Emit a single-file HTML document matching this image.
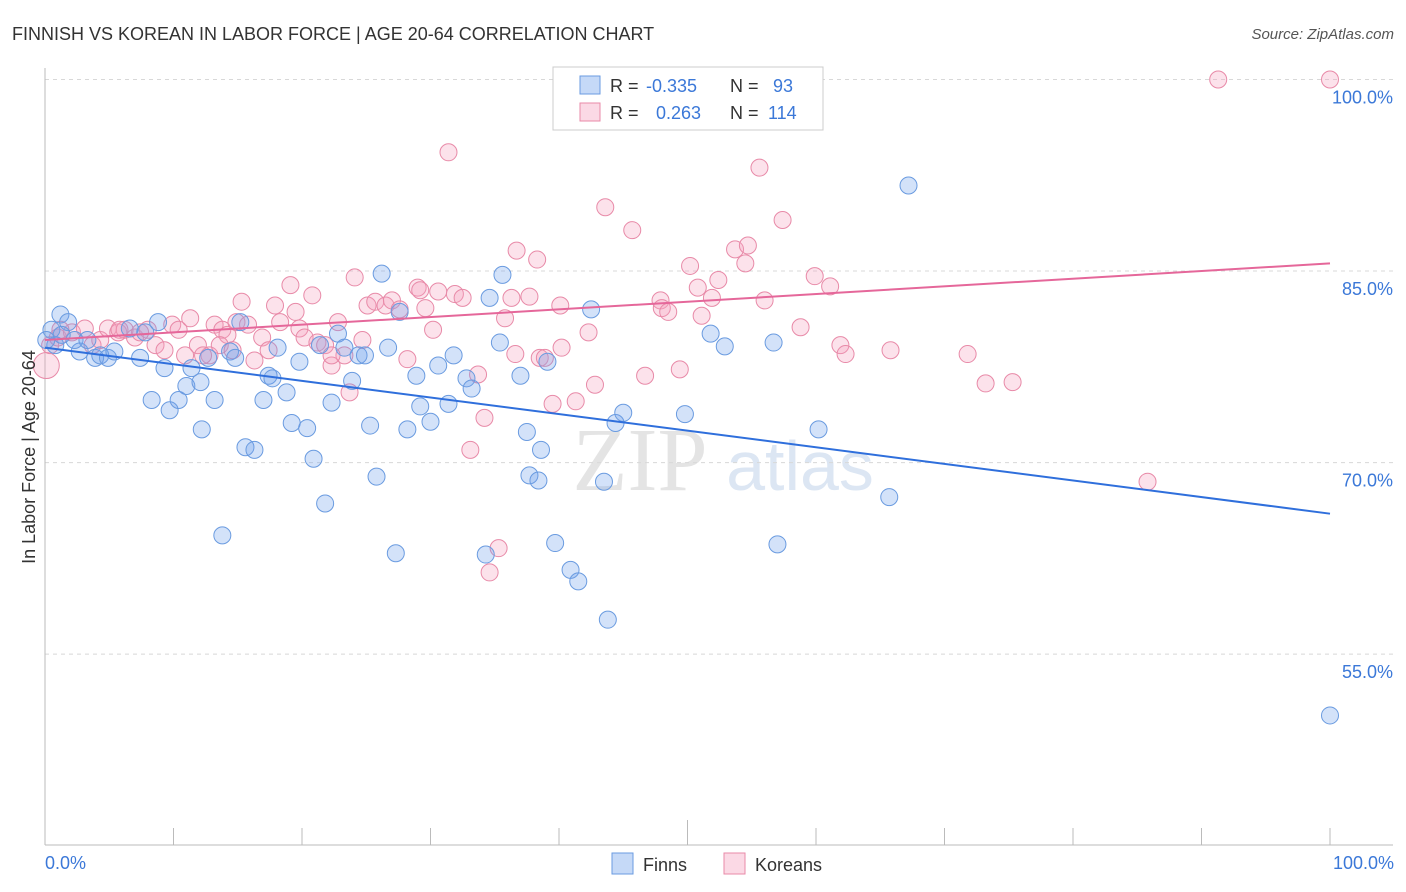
<!DOCTYPE html>
<html><head><meta charset="utf-8"><style>
body{margin:0;background:#fff;font-family:"Liberation Sans",sans-serif}
svg{display:block}
</style></head><body>
<svg width="1406" height="892" xmlns="http://www.w3.org/2000/svg" font-family="Liberation Sans, sans-serif">
<text x="12" y="40" font-size="18" fill="#333">FINNISH VS KOREAN IN LABOR FORCE | AGE 20-64 CORRELATION CHART</text>
<text x="1394" y="39" font-size="15" fill="#555" font-style="italic" text-anchor="end">Source: ZipAtlas.com</text>
<text x="640" y="490" font-size="90" fill="#e4e4e4" font-family="Liberation Serif, serif" text-anchor="middle">ZIP</text>
<text x="800" y="490" font-size="70" fill="#dce6f3" text-anchor="middle">atlas</text>
<g id="grid"></g><g id="axes"></g><g id="marks"></g>
<text x="35" y="457" font-size="18" fill="#333" text-anchor="middle" transform="rotate(-90 35 457)">In Labor Force | Age 20-64</text>
<text x="45" y="869" font-size="18" fill="#3b78d8">0.0%</text>
<text x="1394" y="869" font-size="18" fill="#3b78d8" text-anchor="end">100.0%</text>
<g>
<rect x="553" y="67" width="270" height="63" fill="#fff" stroke="#ccc"/>
<rect x="580" y="76" width="20" height="18" fill="rgba(110,160,235,0.4)" stroke="#6a9be0"/>
<rect x="580" y="103" width="20" height="18" fill="rgba(245,160,190,0.4)" stroke="#e88aa8"/>
<text x="610" y="92" font-size="18" fill="#333">R =</text><text x="646" y="92" font-size="18" fill="#3b78d8">-0.335</text>
<text x="730" y="92" font-size="18" fill="#333">N =</text><text x="773" y="92" font-size="18" fill="#3b78d8">93</text>
<text x="610" y="119" font-size="18" fill="#333">R =</text><text x="656" y="119" font-size="18" fill="#3b78d8">0.263</text>
<text x="730" y="119" font-size="18" fill="#333">N =</text><text x="768" y="119" font-size="18" fill="#3b78d8">114</text>
</g>
<g>
<rect x="612" y="853" width="21" height="21" fill="rgba(110,160,235,0.4)" stroke="#6a9be0"/>
<text x="643" y="871" font-size="18" fill="#333">Finns</text>
<rect x="724" y="853" width="21" height="21" fill="rgba(245,160,190,0.4)" stroke="#e88aa8"/>
<text x="755" y="871" font-size="18" fill="#333">Koreans</text>
</g>
</svg>
<script>
const yTicks=[100,85,70,55];
const yTickLabels=["100.0%","85.0%","70.0%","55.0%"];
const xTicks=[0,10,20,30,40,50,60,70,80,90,100];
const finnX=[0.5,1.2,1.8,0.8,2.7,2.3,3.9,4.3,4.9,5.4,3.3,6.6,7.4,7.8,8.8,9.3,8.3,9.7,10.4,11.0,11.4,12.1,12.7,12.2,13.2,13.8,14.4,14.8,15.2,15.6,16.3,17.0,17.4,17.7,18.1,18.8,19.2,19.8,20.4,20.9,21.4,21.8,22.3,22.8,23.3,23.9,24.4,24.9,25.3,25.8,26.2,26.7,27.3,27.6,28.2,28.9,29.2,30.0,30.6,31.4,31.8,32.8,33.2,34.3,34.6,35.4,35.6,37.0,37.5,37.7,38.4,38.6,39.1,39.7,40.9,41.5,42.5,43.5,43.8,44.4,45.0,46.9,49.8,51.8,52.9,56.7,57.0,60.2,65.7,67.2,100,0.1,1.3];
const finnY=[80.4,81.6,81.0,79.2,78.7,79.6,78.2,78.4,78.2,78.7,79.6,80.5,78.2,80.2,81.0,77.4,74.9,74.1,74.9,76.0,77.4,76.3,78.2,72.6,74.9,64.3,78.7,78.2,81.0,71.2,71.0,74.9,76.8,76.6,79.0,75.5,73.1,77.9,72.7,70.3,79.2,66.8,74.7,80.1,79.0,76.4,78.4,78.4,72.9,68.9,84.8,79.0,62.9,81.8,72.6,76.8,74.4,73.2,77.6,74.6,78.4,76.6,75.8,62.8,82.9,79.4,84.7,76.8,72.4,69.0,68.6,71.0,77.9,63.7,61.6,60.7,82.0,68.5,57.7,73.1,73.9,100,73.8,80.1,79.1,79.4,63.6,72.6,67.3,91.7,50.2,79.6,80.0];
const korX=[0.1,0.4,1.0,2.1,3.1,3.7,4.3,4.9,5.7,6.2,7.0,8.0,8.6,9.3,9.9,10.4,10.9,11.3,11.9,12.8,13.2,13.8,14.2,14.9,15.3,15.8,16.3,16.9,17.4,17.9,18.3,19.1,19.5,19.8,20.2,20.8,21.2,21.8,22.3,22.8,23.3,23.7,24.1,24.7,25.1,25.7,26.5,27.0,27.6,28.2,29.0,29.6,30.2,30.6,31.4,31.9,32.5,33.1,33.7,34.2,34.6,35.3,35.8,36.3,36.6,36.7,37.7,38.3,38.5,38.9,39.5,40.1,40.2,41.3,42.3,42.8,43.6,45.7,46.7,47.9,48.0,48.5,49.4,50.2,50.8,51.1,51.9,52.4,53.7,54.5,54.7,55.6,56.0,57.4,58.8,59.9,61.1,61.9,62.3,65.8,71.8,73.2,75.3,85.8,91.3,100,40.5,1.2,5.8,7.4,12.3,13.6,14.6,29.2,22.3];
const korY=[77.6,79.2,79.8,80.2,80.5,79.2,79.6,80.5,80.2,80.4,79.8,80.4,79.2,78.8,80.8,80.4,78.4,81.3,79.2,78.4,80.8,80.4,80.0,81.0,82.6,80.8,78.0,79.8,78.8,82.3,81.0,83.9,81.8,80.5,79.8,83.1,79.4,79.2,77.6,81.0,78.4,75.5,84.5,79.6,82.3,82.6,82.3,82.7,82.0,78.1,83.7,82.1,80.4,83.4,94.3,83.2,82.9,71.0,76.9,73.5,61.4,63.3,81.3,82.9,78.5,86.6,83.0,85.9,78.2,78.2,74.6,82.3,79.0,74.8,80.2,76.1,90.0,88.2,76.8,82.7,82.1,81.8,77.3,85.4,83.7,81.5,82.9,84.3,86.7,85.6,87.0,93.1,82.7,89.0,80.6,84.6,83.8,79.2,78.5,78.8,78.5,76.2,76.3,68.5,100,100,100,80.4,80.4,80.2,78.4,79.2,78.8,83.5,78.4];
const finnTrend=[79.0,66.0];
const korTrend=[79.6,85.6];
const NS="http://www.w3.org/2000/svg";
const X0=45,X1=1330,YTOP=79.5,PPU=12.77;
function xs(v){return X0+(X1-X0)*v/100;}
function ys(v){return YTOP+(100-v)*PPU;}
function mk(t,a,p){const e=document.createElementNS(NS,t);for(const k in a)e.setAttribute(k,a[k]);p.appendChild(e);return e;}
const grid=document.getElementById('grid'),axes=document.getElementById('axes'),marks=document.getElementById('marks');
yTicks.forEach((v,i)=>{
 const l=mk('line',{x1:X0,x2:1393,y1:ys(v),y2:ys(v),stroke:'#d8d8d8','stroke-dasharray':'4,4'},grid);
 
 
 const t=mk('text',{x:1393,y:ys(v)+24,'font-size':18,fill:'#3b78d8','text-anchor':'end'},grid);
 t.textContent=yTickLabels[i];
 
 
});
const xa=mk('line',{x1:X0,x2:1393,y1:845,y2:845,stroke:'#bbb'},axes);


const ya=mk('line',{x1:X0,x2:X0,y1:68,y2:845,stroke:'#bbb'},axes);


xTicks.forEach(v=>{
 const t=mk('line',{x1:xs(v),x2:xs(v),y1:(v===50?820:828),y2:845,stroke:'#bbb'},axes);
 
 
});
function dots(X,Y,fill,stroke,name){
 X.forEach((x,i)=>{
  const r=(i===0&&x<0.3)?13:8.5;
  const c=mk('circle',{cx:xs(x),cy:ys(Y[i]),r:r,fill:fill,stroke:stroke,'stroke-width':1},marks);
  
  
 });
}
dots(korX,korY,'rgba(245,160,190,0.3)','#e88aa8','korean-point');
dots(finnX,finnY,'rgba(110,160,235,0.3)','#6a9be0','finn-point');
const ft=mk('line',{x1:xs(0),y1:ys(finnTrend[0]),x2:xs(100),y2:ys(finnTrend[1]),stroke:'#2f6fdc','stroke-width':2},marks);


const kt=mk('line',{x1:xs(0),y1:ys(korTrend[0]),x2:xs(100),y2:ys(korTrend[1]),stroke:'#e5679a','stroke-width':2},marks);


</script>
</body></html>
